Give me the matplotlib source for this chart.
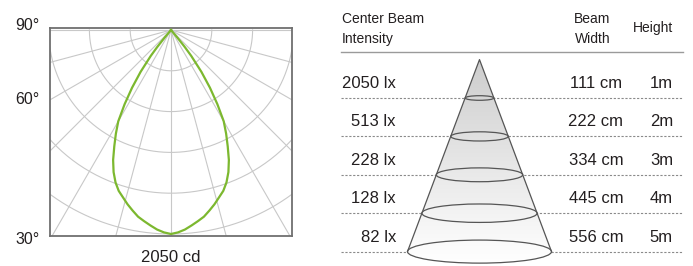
import numpy as np
import matplotlib
matplotlib.use("Agg")
import matplotlib.pyplot as plt
from matplotlib.patches import Ellipse, Polygon
from matplotlib.colors import LinearSegmentedColormap

plt.rcParams['font.family'] = ['Liberation Sans', 'DejaVu Sans']

# polar light distribution (half profile, symmetric), degrees from nadir / cd
angles = [0, 2, 4, 6, 8, 10, 12, 14, 16, 18, 20, 22, 24, 26, 28, 30, 32, 34, 36, 38, 39, 40, 40.5]
intensity_cd = [2050, 2035, 2010, 1975, 1940, 1905, 1855, 1805, 1750, 1700, 1630, 1540, 1430,
                1300, 1180, 1060, 880, 700, 520, 330, 220, 100, 0]
max_cd = 2050
ring_step = 410
angle_labels = ["90°", "60°", "30°"]

# beam table
heights_m = [1, 2, 3, 4, 5]
center_lux = [2050, 513, 228, 128, 82]
beam_width_cm = [111, 222, 334, 445, 556]

TXT = '#231f20'
W, H = 693, 266
fig = plt.figure(figsize=(W / 100, H / 100), dpi=100)

# ---- left: polar curve drawn on cartesian axes ----
k = max_cd / 204.0   # cd per pixel
ax = fig.add_axes([50 / W, (H - 236) / H, 242 / W, 208 / H])
ax.set_xlim(-121 * k, 121 * k)
ax.set_ylim(-206 * k, 2 * k)

t = np.linspace(-np.pi / 2, np.pi / 2, 300)
for r in np.arange(ring_step, max_cd + 3 * ring_step, ring_step):
    ax.plot(r * np.sin(t), -r * np.cos(t), color='#c8c8c8', lw=0.8, zorder=1)
for a in np.arange(-90, 91, 15):
    ar = np.radians(a)
    ax.plot([0, 4000 * np.sin(ar)], [0, -4000 * np.cos(ar)], color='#c8c8c8', lw=0.8, zorder=1)

th = np.radians(np.array(angles))
rr = np.array(intensity_cd)
th_full = np.concatenate([-th[::-1], th[1:]])
r_full = np.concatenate([rr[::-1], rr[1:]])
ax.plot(r_full * np.sin(th_full), -r_full * np.cos(th_full), color='#7cb82f', lw=1.6,
        solid_joinstyle='round', zorder=3)

ax.set_xticks([])
ax.set_yticks([])
for s in ax.spines.values():
    s.set_color('#707070')
    s.set_linewidth(1.3)

for lab, yp in zip(angle_labels, [26, 100, 240]):
    fig.text(40 / W, 1 - yp / H, lab, ha='right', va='center', fontsize=11.5, color=TXT)
fig.text(171 / W, 1 - 257 / H, f"{max_cd} cd", ha='center', va='center', fontsize=12, color=TXT)

# ---- right: beam cone table ----
y0, step = 59.6, 38.4          # pixel row of apex, pixels per metre
ax2 = fig.add_axes([330 / W, 0, (W - 330) / W, 1])
ax2.set_xlim(330, W)
ax2.set_ylim((H - y0) / step, -y0 / step)
ax2.axis('off')

def py(p):
    return (p - y0) / step

cx = 479.5
px_per_cm = 72.0 / (beam_width_cm[-1] / 2)
hmax = heights_m[-1]
hw_max = beam_width_cm[-1] / 2 * px_per_cm

# gradient fill clipped to cone
grad = np.linspace(0, 1, 256).reshape(-1, 1)
cmap = LinearSegmentedColormap.from_list('g', ['#cdcdcd', '#ffffff'])
ell_hh = 0.16 * hw_max / step
tt = np.linspace(0, np.pi, 60)
poly = [(cx, 0), (cx + hw_max, hmax)] + [(cx + hw_max * np.cos(a), hmax + ell_hh * np.sin(a)) for a in tt] + [(cx - hw_max, hmax)]
clip = Polygon(poly, closed=True, facecolor='none', edgecolor='none', transform=ax2.transData)
ax2.add_patch(clip)
im = ax2.imshow(grad, cmap=cmap, aspect='auto', extent=[cx - hw_max, cx + hw_max, hmax + ell_hh, 0], zorder=2)
im.set_clip_path(clip)

# row separators
for h in heights_m:
    ax2.plot([341, 683], [h, h], color='#8a8a8a', lw=0.8, linestyle=(0, (2, 1.5)), zorder=1)
ax2.plot([341, 683], [py(52), py(52)], color='#9a9a9a', lw=1.0, zorder=1)

# cone sides and ellipses
ax2.plot([cx - hw_max, cx, cx + hw_max], [hmax, 0, hmax], color='#555555', lw=0.9, zorder=3)
for h, w in zip(heights_m, beam_width_cm):
    hw = w / 2 * px_per_cm
    ax2.add_patch(Ellipse((cx, h), 2 * hw, 2 * 0.16 * hw / step, facecolor='none',
                          edgecolor='#555555', lw=0.9, zorder=3))

# headers
ax2.text(342, py(23.3), "Center Beam", ha='left', va='baseline', fontsize=10, color=TXT)
ax2.text(342, py(42.7), "Intensity", ha='left', va='baseline', fontsize=10, color=TXT)
ax2.text(592.5, py(23.3), "Beam", ha='center', va='baseline', fontsize=10, color=TXT)
ax2.text(592.5, py(42.7), "Width", ha='center', va='baseline', fontsize=10, color=TXT)
ax2.text(653, py(32), "Height", ha='center', va='baseline', fontsize=10, color=TXT)

for h, lx, w in zip(heights_m, center_lux, beam_width_cm):
    yt = h - 0.38
    ax2.text(396, yt, f"{lx} lx", ha='right', va='center', fontsize=12, color=TXT)
    ax2.text(596, yt, f"{w} cm", ha='center', va='center', fontsize=12, color=TXT)
    ax2.text(673, yt, f"{h}m", ha='right', va='center', fontsize=12, color=TXT)

fig.savefig("out.png", dpi=100)
